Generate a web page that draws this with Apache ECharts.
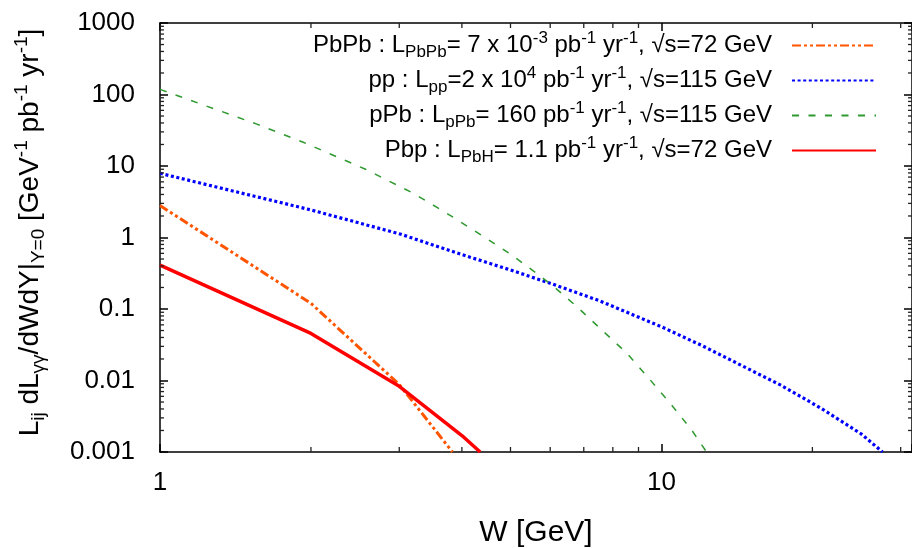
<!DOCTYPE html>
<html>
<head>
<meta charset="utf-8">
<title>Photon-photon luminosities</title>
<script src="https://cdn.jsdelivr.net/npm/echarts@6/dist/echarts.min.js"></script>
<style>
  html, body { margin: 0; padding: 0; background: #fff; }
  #chart { width: 912px; height: 548px; }
</style>
</head>
<body>
<div id="chart"></div>
<script>
// W [GeV] and luminosity values
var wPbPb = [1, 2, 3, 3.83];
var lumPbPb = [2.8, 0.12, 0.0088, 0.001];

var wPp = [1, 2, 3.01, 3.97, 5, 6, 7.55, 10, 12, 14.4, 17.3, 20.8, 25, 27.6];
var lumPp = [7.9, 2.43, 1.12, 0.587, 0.351, 0.229, 0.129, 0.0564, 0.0312, 0.0164, 0.0086, 0.0041, 0.0018, 0.001];

var wPPb = [1, 1.56, 1.93, 2.57, 3.2, 3.62, 3.87, 4.42, 5.03, 5.69, 6.05, 6.79, 7.61, 8.54, 9.44, 10.42, 11.5, 12.05, 12.3];
var lumPPb = [118, 38.5, 21.5, 9.0, 4.16, 2.48, 1.86, 1.03, 0.569, 0.30, 0.216, 0.107, 0.0506, 0.0239, 0.0107, 0.00476, 0.00201, 0.00124, 0.001];

var wPbp = [1, 2, 3, 4, 4.35];
var lumPbp = [0.41, 0.0455, 0.0083, 0.0017, 0.001];

var names = ['PbPb', 'pp', 'pPb', 'Pbp'];
var legendText = [
    'PbPb : L{sub|PbPb}= 7 x 10{sup|-3} pb{sup|-1} yr{sup|-1}, √s=72 GeV{g| }',
    'pp : L{sub|pp}=2 x 10{sup|4} pb{sup|-1} yr{sup|-1}, √s=115 GeV{g| }',
    'pPb : L{sub|pPb}= 160 pb{sup|-1} yr{sup|-1}, √s=115 GeV{g| }',
    'Pbp : L{sub|PbH}= 1.1 pb{sup|-1} yr{sup|-1}, √s=72 GeV{g| }'
];
var xTickLabels = ['1', '10'];
var yTickLabels = ['0.001', '0.01', '0.1', '1', '10', '100', '1000'];

var FONT = 'Liberation Sans';

// minor tick positions (2..9 of each decade)
var xMinor = [];
var yMinor = [];
for (var d = 0; d < 2; d++) {
    for (var k = 2; k <= 9; k++) {
        var v = k * Math.pow(10, d);
        if (v < 31.6) xMinor.push([v, 1]);
    }
}
for (var e = -3; e < 3; e++) {
    for (var m = 2; m <= 9; m++) {
        yMinor.push([1, +(m * Math.pow(10, e)).toPrecision(3)]);
    }
}

function pairs(xs, ys) {
    return xs.map(function (x, i) { return [x, ys[i]]; });
}

function lineSeries(name, xs, ys, color, width, dash) {
    return {
        name: name,
        type: 'line',
        data: pairs(xs, ys),
        symbol: 'none',
        lineStyle: { color: color, width: width, type: dash },
        itemStyle: { color: color },
        z: 3
    };
}

function tick(x1, y1, x2, y2) {
    return { type: 'line', shape: { x1: x1, y1: y1, x2: x2, y2: y2 }, style: { stroke: '#222', lineWidth: 1.3 } };
}

var richSS = {
    sub: { fontFamily: FONT, fontSize: 17, lineHeight: 17, verticalAlign: 'bottom', color: '#000' },
    sup: { fontFamily: FONT, fontSize: 17, lineHeight: 17, verticalAlign: 'top', color: '#000' },
    g: { width: 15 }
};

var axisBase = {
    type: 'log',
    logBase: 10,
    axisLine: { show: true, onZero: false, lineStyle: { color: '#000', width: 1.5 } },
    axisTick: { show: true, inside: true, length: 8, lineStyle: { color: '#000', width: 1.5 } },
    splitLine: { show: false },
    minorTick: { show: false },
    minorSplitLine: { show: false }
};

var myChart = echarts.init(document.getElementById('chart'));
var option = {
    animation: false,
    backgroundColor: '#fff',
    grid: { left: 160, right: 0, top: 23, bottom: 96, containLabel: false, outerBoundsMode: 'none' },
    legend: {
        data: names,
        orient: 'vertical',
        right: 35,
        top: 30,
        align: 'right',
        padding: 0,
        itemWidth: 84,
        itemHeight: 10,
        itemGap: 4,
        selectedMode: false,
        itemStyle: { opacity: 0 },
        formatter: function (name) { return legendText[names.indexOf(name)]; },
        textStyle: { fontFamily: FONT, fontSize: 24, color: '#000', lineHeight: 31, rich: richSS }
    },
    xAxis: [
        Object.assign({}, axisBase, {
            position: 'bottom',
            min: 1,
            max: 31.6,
            name: 'W [GeV]',
            nameLocation: 'middle',
            nameGap: 66,
            nameTextStyle: { fontFamily: FONT, fontSize: 30, color: '#000' },
            axisLabel: {
                margin: 18,
                fontFamily: FONT, fontSize: 26, color: '#000',
                formatter: function (v, i) { return xTickLabels[i] || ''; }
            }
        }),
        Object.assign({}, axisBase, {
            position: 'top',
            min: 1,
            max: 31.6,
            axisLabel: { show: false }
        })
    ],
    yAxis: [
        Object.assign({}, axisBase, {
            position: 'left',
            min: 0.001,
            max: 1000,
            name: 'L{sub|ij} dL{sub|γγ}/dWdY|{sub|Y=0} [GeV{sup|-1} pb{sup|-1} yr{sup|-1}]',
            nameLocation: 'middle',
            nameRotate: 90,
            nameGap: 112,
            nameTextStyle: {
                fontFamily: FONT, fontSize: 28, color: '#000', lineHeight: 36,
                padding: [0, 0, 0, 10],
                rich: {
                    sub: { fontFamily: FONT, fontSize: 19, lineHeight: 19, verticalAlign: 'bottom', color: '#000' },
                    sup: { fontFamily: FONT, fontSize: 19, lineHeight: 19, verticalAlign: 'top', color: '#000' }
                }
            },
            axisLabel: {
                margin: 25,
                fontFamily: FONT, fontSize: 26, color: '#000',
                formatter: function (v, i) { return yTickLabels[i] || ''; }
            }
        }),
        Object.assign({}, axisBase, {
            position: 'right',
            min: 0.001,
            max: 1000,
            axisLabel: { show: false }
        })
    ],
    series: [
        lineSeries('PbPb', wPbPb, lumPbPb, '#ff5500', 3, [9, 3, 3, 3, 3, 3]),
        lineSeries('pp', wPp, lumPp, '#0000ff', 3.2, [3, 2.6]),
        lineSeries('pPb', wPPb, lumPPb, '#2f9a2f', 1.5, [7, 9.5]),
        lineSeries('Pbp', wPbp, lumPbp, '#ff0000', 3.5, 'solid'),
        {
            name: 'xminor',
            type: 'custom',
            coordinateSystem: 'cartesian2d',
            xAxisIndex: 0,
            yAxisIndex: 0,
            silent: true,
            clip: false,
            z: 5,
            data: xMinor,
            renderItem: function (params, api) {
                var cs = params.coordSys;
                var p = api.coord([api.value(0), api.value(1)]);
                return {
                    type: 'group',
                    children: [
                        tick(p[0], cs.y + cs.height, p[0], cs.y + cs.height - 5),
                        tick(p[0], cs.y, p[0], cs.y + 5)
                    ]
                };
            }
        },
        {
            name: 'yminor',
            type: 'custom',
            coordinateSystem: 'cartesian2d',
            xAxisIndex: 0,
            yAxisIndex: 0,
            silent: true,
            clip: false,
            z: 5,
            data: yMinor,
            renderItem: function (params, api) {
                var cs = params.coordSys;
                var p = api.coord([api.value(0), api.value(1)]);
                return {
                    type: 'group',
                    children: [
                        tick(cs.x, p[1], cs.x + 4, p[1]),
                        tick(cs.x + cs.width, p[1], cs.x + cs.width - 4, p[1])
                    ]
                };
            }
        }
    ]
};
myChart.setOption(option);
</script>
</body>
</html>
